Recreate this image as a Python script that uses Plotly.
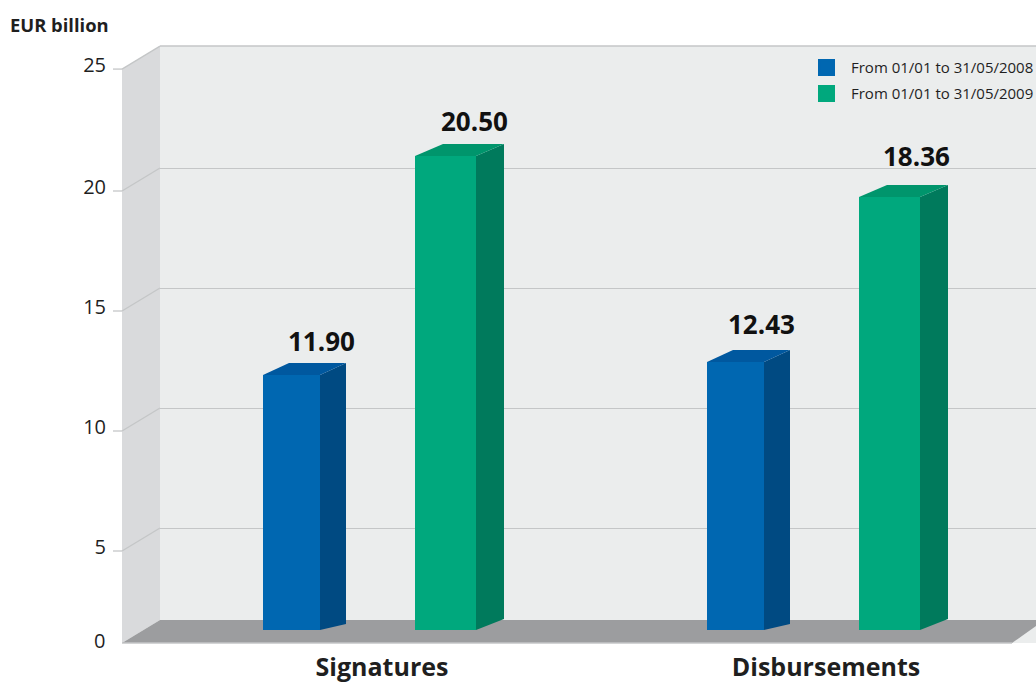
import plotly.graph_objects as go

categories = ["Signatures", "Disbursements"]
series_names = ["From 01/01 to 31/05/2008", "From 01/01 to 31/05/2009"]
# Bar tops as drawn, read against the back-wall gridlines
tops_2008 = [11.375, 11.92]
tops_2009 = [20.5, 18.79]
# Values printed above the bars
labels_2008 = ["11.90", "12.43"]
labels_2009 = ["20.50", "18.36"]
# Gridline heights on the back wall; the top one sits on the wall's upper edge
grid_values = [5, 10, 15, 20, 25.08]
grid_text = ["5", "10", "15", "20", "25"]

W, H = 1036, 684
FONT = "Open Sans"
TEXT = "#1f1f1f"
PX_X = 444.0          # pixels per category
PX_Y = 24.0           # pixels per y unit
Y0_PX = 648.0         # pixel of y = 0
X0_PX = 382.0         # pixel of first category
FLOOR_BASE = (Y0_PX - 630) / PX_Y


def px(x):
    return x / W


def py(y):
    return 1 - y / H


def paper_poly(points, fill):
    path = "M" + " L".join(f"{px(a):.5f},{py(b):.5f}" for a, b in points) + " Z"
    return dict(type="path", xref="paper", yref="paper", path=path, fillcolor=fill,
                line=dict(width=0), layer="below")


def faces(tops, offset, width, dx, base_rise, side, top):
    out = []
    for i, v in enumerate(tops):
        l = i + offset
        r = l + width
        d = dx / PX_X
        rise = 12 / PX_Y
        side_path = (f"M{r},{v} L{r + d},{v + rise} L{r + d},{FLOOR_BASE + base_rise / PX_Y} "
                     f"L{r},{FLOOR_BASE} Z")
        top_path = f"M{l},{v} L{l + d},{v + rise} L{r + d},{v + rise} L{r},{v} Z"
        for path, col in ((side_path, side), (top_path, top)):
            out.append(dict(type="path", xref="x", yref="y", path=path, fillcolor=col,
                            line=dict(width=0), layer="between"))
    return out


OFF_A, WID_A = (263 - X0_PX) / PX_X, 57 / PX_X
OFF_B, WID_B = (415 - X0_PX) / PX_X, 61 / PX_X
BLUE, BLUE_SIDE, BLUE_TOP = "#0067b1", "#004a82", "#00589f"
GREEN, GREEN_SIDE, GREEN_TOP = "#00a87d", "#007a5c", "#00956c"
GRID = "#c4c6c7"

fig = go.Figure()
for name, tops, off, wid, col, grp in (
    (series_names[0], tops_2008, OFF_A, WID_A, BLUE, "a"),
    (series_names[1], tops_2009, OFF_B, WID_B, GREEN, "b"),
):
    fig.add_trace(go.Bar(name=name, x=categories, y=[t - FLOOR_BASE for t in tops],
                         base=FLOOR_BASE, offset=off, width=wid, legendgroup=grp,
                         marker=dict(color=col, line=dict(width=0))))

shapes = [
    paper_poly([(122, 69), (160, 46), (160, 620), (122, 643)], "#d9dadc"),
    paper_poly([(122, 643), (160, 620), (1036, 620), (1036, 626), (1012, 643)], "#9c9d9f"),
    dict(type="line", xref="paper", yref="paper", x0=px(160), x1=1, y0=py(46), y1=py(46),
         line=dict(color=GRID, width=1.5), layer="above"),
    dict(type="line", xref="paper", yref="paper", x0=px(122), x1=px(1012), y0=py(643), y1=py(643),
         line=dict(color=GRID, width=1.5), layer="above"),
    dict(type="rect", xref="paper", yref="paper", x0=px(818), x1=px(835), y0=py(59), y1=py(76),
         fillcolor=BLUE, line=dict(width=0), layer="above"),
    dict(type="rect", xref="paper", yref="paper", x0=px(818), x1=px(835), y0=py(85), y1=py(102),
         fillcolor=GREEN, line=dict(width=0), layer="above"),
]
for v in grid_values:
    f = py(Y0_PX - v * PX_Y + 23)
    shapes.append(dict(type="line", xref="paper", yref="paper", x0=px(113), x1=px(122), y0=f, y1=f,
                       line=dict(color=GRID, width=1.3), layer="above"))
    shapes.append(dict(type="line", xref="paper", yref="paper", x0=px(122), x1=px(160), y0=f,
                       y1=py(Y0_PX - v * PX_Y), line=dict(color=GRID, width=1.3), layer="above"))
shapes += faces(tops_2008, OFF_A, WID_A, 26, 6, BLUE_SIDE, BLUE_TOP)
shapes += faces(tops_2009, OFF_B, WID_B, 28, 11, GREEN_SIDE, GREEN_TOP)

annotations = [
    dict(text="<b>EUR billion</b>", xref="paper", yref="paper", x=px(8), y=py(24), xanchor="left",
         yanchor="middle", showarrow=False, font=dict(family=FONT, size=18.4, color=TEXT)),
    dict(text="0", xref="paper", yref="paper", x=px(107), y=py(640), xanchor="right",
         yanchor="middle", showarrow=False, font=dict(family=FONT, size=20, color=TEXT)),
]
label_specs = [
    (labels_2008, tops_2008, OFF_A, WID_A, [(30, 34), (26, 38)]),
    (labels_2009, tops_2009, OFF_B, WID_B, [(29, 35), (27, 41)]),
]
for labels, tops, off, wid, shifts in label_specs:
    for i, (t, v, (sx, sy)) in enumerate(zip(labels, tops, shifts)):
        annotations.append(dict(text=f"<b>{t}</b>", xref="x", yref="y", x=i + off + wid / 2, y=v,
                                xshift=sx, yshift=sy, xanchor="center", yanchor="middle",
                                showarrow=False, font=dict(family=FONT, size=26, color="#111111")))

fig.update_layout(
    width=W, height=H, autosize=False, paper_bgcolor="white", plot_bgcolor="#ebeded",
    margin=dict(l=0, r=0, t=0, b=0, autoexpand=False),
    barmode="overlay",
    shapes=shapes, annotations=annotations,
    legend=dict(x=px(802), y=py(51), xanchor="left", yanchor="top", bgcolor="rgba(0,0,0,0)",
                itemwidth=39, tracegroupgap=3, traceorder="grouped",
                font=dict(family=FONT, size=15, color=TEXT)),
    xaxis=dict(domain=[px(160), 1], type="category", categoryorder="array", categoryarray=categories,
               range=[(160 - X0_PX) / PX_X, (1036 - X0_PX) / PX_X], showgrid=False, zeroline=False,
               showline=False, ticks="", ticklen=0, ticklabelstandoff=7,
               tickfont=dict(family=FONT, size=25, color=TEXT)),
    yaxis=dict(domain=[py(643), py(46)], range=[(Y0_PX - 643) / PX_Y, (Y0_PX - 46) / PX_Y],
               tickmode="array", tickvals=grid_values, ticktext=grid_text, showgrid=True,
               gridcolor=GRID, gridwidth=1.3, zeroline=False, showline=False, ticks="", ticklen=0,
               ticklabelstandoff=53, ticklabelshift=19,
               tickfont=dict(family=FONT, size=20, color=TEXT)),
)
fig.update_xaxes(tickprefix="<b>", ticksuffix="</b>")
fig.write_html("out.html", config=dict(displayModeBar=False),
               post_script="document.body.style.margin='0';document.documentElement.style.overflow='hidden';")
